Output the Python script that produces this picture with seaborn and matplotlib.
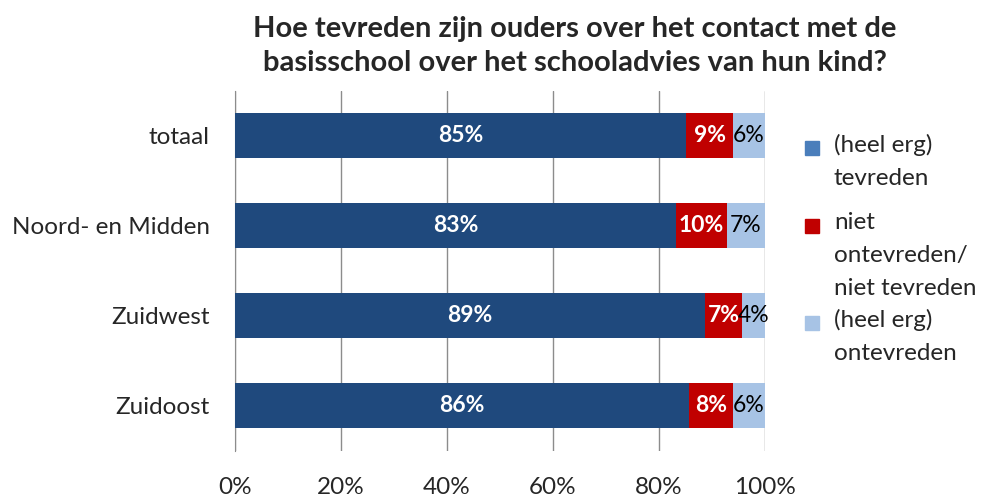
import matplotlib
matplotlib.use('Agg')
import matplotlib.pyplot as plt
from matplotlib.patches import Rectangle
import seaborn as sns
import pandas as pd

categories = ['totaal', 'Noord- en Midden', 'Zuidwest', 'Zuidoost']
tevreden = [85.1, 83.2, 88.7, 85.7]
neutraal = [8.9, 9.6, 7.0, 8.3]
ontevreden = [6.0, 7.2, 4.3, 6.0]
series_names = ['(heel erg)\ntevreden', 'niet\nontevreden/\nniet tevreden', '(heel erg)\nontevreden']
x_ticks = [0, 20, 40, 60, 80, 100]

c_blue = '#1f497d'
c_blue_leg = '#4a7ebb'
c_red = '#c00000'
c_light = '#a7c3e5'
grey = '#8c8c8c'
fs = 17.5

df = pd.DataFrame({'cat': categories, 'a': tevreden, 'b': neutraal, 'c': ontevreden})
df['ab'] = df['a'] + df['b']
df['abc'] = df['ab'] + df['c']

sns.set_style('white')
plt.rcParams['font.family'] = ['Lato', 'DejaVu Sans']

fig = plt.figure(figsize=(9.84, 4.97), dpi=100)
ax = fig.add_axes([0.2388, 0.0926, 0.5386, 0.7243])

# stacked bars: draw cumulative totals back to front
for col, colour in [('abc', c_light), ('ab', c_red), ('a', c_blue)]:
    sns.barplot(data=df, y='cat', x=col, color=colour, width=0.5, saturation=1,
                linewidth=0, ax=ax, zorder=3)

lbl = 16.5
for i, row in df.iterrows():
    ax.text(row['a'] / 2, i, f"{row['a']:.0f}%", ha='center', va='center',
            color='white', fontsize=lbl, fontweight='bold', zorder=5)
    ax.text(row['a'] + row['b'] / 2, i, f"{row['b']:.0f}%", ha='center', va='center',
            color='white', fontsize=lbl, fontweight='bold', zorder=5)
    ax.text(row['ab'] + row['c'] / 2, i, f"{row['c']:.0f}%", ha='center', va='center',
            color='black', fontsize=lbl, zorder=5)

ax.set_xlim(0, 100)
ax.set_ylim(3.5, -0.5)
ax.set_xticks(x_ticks)
ax.set_xticklabels([f'{t}%' for t in x_ticks], fontsize=fs)
ax.set_xlabel('')
ax.set_ylabel('')
ax.tick_params(axis='y', labelsize=fs, length=0, pad=18)
ax.set_yticks([-0.5, 0.5, 1.5, 2.5, 3.5], minor=True)
ax.tick_params(axis='y', which='minor', length=6, color=grey, direction='out')
ax.tick_params(axis='x', length=6, color=grey, direction='out', pad=13)
ax.xaxis.grid(True, color=grey, linewidth=1, zorder=0)
ax.set_axisbelow(True)
for s in ['top', 'right', 'bottom']:
    ax.spines[s].set_visible(False)
ax.spines['left'].set_color(grey)

fig.text(0.584, 0.968, 'Hoe tevreden zijn ouders over het contact met de\nbasisschool over het schooladvies van hun kind?',
         ha='center', va='top', fontsize=21, fontweight='bold', linespacing=1.38)

# legend drawn by hand so that the square sits next to the first text line
W, H = 984, 497
leg_handles = [c_blue_leg, c_red, c_light]
leg_y = [148, 226, 323]
for colour, name, y in zip(leg_handles, series_names, leg_y):
    fig.patches.append(Rectangle((805 / W, 1 - (y + 7) / H), 14 / W, 14 / H,
                                 transform=fig.transFigure, color=colour))
    fig.text(834 / W, 1 - (y - 14) / H, name, ha='left', va='top',
             fontsize=fs, linespacing=1.7)

fig.savefig('out.png', dpi=100)
